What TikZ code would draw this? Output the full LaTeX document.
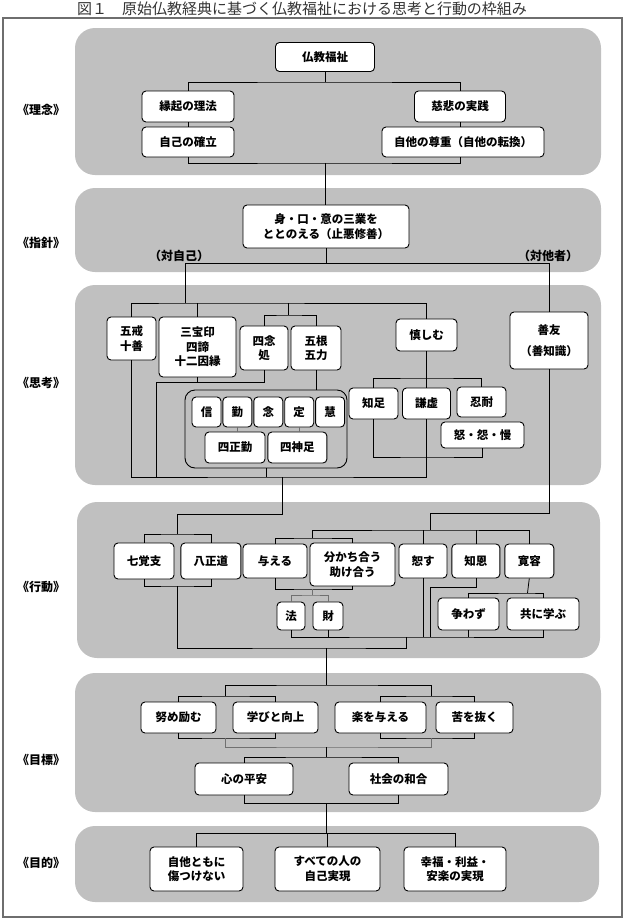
\documentclass[tikz,border=0pt]{standalone}
\usepackage{fontspec}
\setmainfont{Noto Sans CJK JP}
\usetikzlibrary{positioning}
\definecolor{bandgray}{HTML}{C0C0C0}
\definecolor{framegray}{HTML}{6E6E6E}
\definecolor{linkgray}{HTML}{707070}
\newcommand\boxfont{\fontsize{11.5}{14.5}\selectfont\bfseries}
\newcommand\tagfont{\fontsize{12}{14}\selectfont\bfseries}
\tikzset{
  band/.style={fill=bandgray, rounded corners=20pt},
  item/.style={rectangle, rounded corners=4pt, draw=black, fill=white, line width=0.9pt, align=center, inner sep=0pt, font=\boxfont},
  dims/.style 2 args={minimum width=#1pt, minimum height=#2pt},
  group/.style={rectangle, rounded corners=10pt, draw=black, line width=0.9pt, inner sep=0pt},
  tag/.style={font=\tagfont, inner sep=0pt},
  link/.style={line width=0.8pt},
  faint/.style={line width=0.8pt, draw=linkgray},
}
\begin{document}
\begin{tikzpicture}[x=1pt,y=-1pt]
  \useasboundingbox (0,0) rectangle (625,919);
  \node[anchor=base, font=\fontsize{15}{15}\selectfont, text=black!80] (title) at (302,14) {図１　原始仏教経典に基づく仏教福祉における思考と行動の枠組み};
  \draw[framegray, line width=1.2pt] (3,18) rectangle (622,917);
  \fill[band] (75,28) rectangle (601,175);
  \fill[band] (75,188) rectangle (601,272);
  \fill[band] (75,285) rectangle (601,485);
  \fill[band] (77,502) rectangle (600,658);
  \fill[band] (75,673) rectangle (601,812);
  \fill[band] (75,826) rectangle (599,902);

  \node[tag] (riten) at (41,110) {《理念》};
  \node[tag] (shishin) at (41,243) {《指針》};
  \node[tag] (shiko) at (41,383) {《思考》};
  \node[tag] (kodo) at (41,587) {《行動》};
  \node[tag] (mokuhyo) at (41,760) {《目標》};
  \node[tag] (mokuteki) at (41,863) {《目的》};

  \node[item,dims={99}{29}] (fukushi) at (325,57) {仏教福祉};
  \node[item,dims={92}{31}] (engi) at (188,106.5) {縁起の理法};
  \node[item,dims={91}{31}] (jihi) at (460,106.5) {慈悲の実践};
  \node[item,dims={92}{30}] (jiko) at (188,142) {自己の確立};
  \node[item,dims={162}{30}] (jita) at (463,142) {自他の尊重（自他の転換）};

  \node[item,dims={166}{43}] (sango) at (326,226.5) {身・口・意の三業を\\ととのえる（止悪修善）};
  \node[tag] (taijiko) at (179,255.5) {（対自己）};
  \node[tag] (taitasha) at (548,255.5) {（対他者）};

  \node[item,dims={49}{43}] (gokai) at (131.5,338.5) {五戒\\十善};
  \node[item,dims={77}{60}] (sanbo) at (197.5,347) {三宝印\\四諦\\十二因縁};
  \node[item,dims={48}{44}] (shinen) at (264,348) {四念\\処};
  \node[item,dims={50}{44}] (gokon) at (316,348) {五根\\五力};
  \node[item,dims={61}{32}] (tsutsu) at (426.5,335) {慎しむ};
  \node[item,dims={78}{57}] (zenyu) at (549,340.5) {善友\\[7pt]（善知識）};
  \node[group,dims={162}{78}] (shugyo) at (266,429) {};
  \node[item,dims={29}{30}] (shin) at (206.5,412) {信};
  \node[item,dims={29}{30},right=1pt of shin] (gon) {勤};
  \node[item,dims={29}{30},right=1pt of gon] (nen) {念};
  \node[item,dims={29}{30},right=1pt of nen] (jo) {定};
  \node[item,dims={29}{30},right=1pt of jo] (e) {慧};
  \node[item,dims={60}{31}] (shishogon) at (235,447.5) {四正勤};
  \node[item,dims={59}{31},right=2pt of shishogon] (shijinsoku) {四神足};
  \node[item,dims={49}{31}] (chisoku) at (373.5,403.5) {知足};
  \node[item,dims={48}{31}] (kenkyo) at (426.5,403.5) {謙虚};
  \node[item,dims={49}{30}] (nintai) at (481.5,402) {忍耐};
  \node[item,dims={83}{26}] (doenman) at (482.5,435) {怒・怨・慢};

  \node[item,dims={60}{36}] (shichikaku) at (144,561) {七覚支};
  \node[item,dims={60}{36},right=6pt of shichikaku] (hassho) {八正道};
  \node[item,dims={64}{34}] (ataeru) at (275,561) {与える};
  \node[item,dims={85}{43}] (wakachi) at (352.5,564.5) {分かち合う\\助け合う};
  \node[item,dims={48}{34}] (yurusu) at (423,561) {恕す};
  \node[item,dims={48}{34},right=4pt of yurusu] (chion) {知恩};
  \node[item,dims={49}{34},right=4pt of chion] (kanyo) {寛容};
  \node[item,dims={28}{28}] (ho) at (291,616) {法};
  \node[item,dims={30}{28}] (zai) at (328,616) {財};
  \node[item,dims={61}{32}] (arasowazu) at (468.5,614) {争わず};
  \node[item,dims={72}{32}] (tomoni) at (543,614) {共に学ぶ};

  \node[item,dims={75}{31}] (tsutome) at (178.5,717.5) {努め励む};
  \node[item,dims={85}{31}] (manabi) at (275.5,717.5) {学びと向上};
  \node[item,dims={91}{31}] (raku) at (380.5,717.5) {楽を与える};
  \node[item,dims={77}{31}] (ku) at (474.5,717.5) {苦を抜く};
  \node[item,dims={98}{32}] (heian) at (244,779) {心の平安};
  \node[item,dims={99}{32}] (wago) at (398.5,779) {社会の和合};

  \node[item,dims={93}{44}] (kizu) at (196.5,869) {自他ともに\\傷つけない};
  \node[item,dims={105}{44}] (jitsugen) at (327.5,869) {すべての人の\\自己実現};
  \node[item,dims={102}{44}] (kofuku) at (455,869) {幸福・利益・\\安楽の実現};

  \coordinate (top1) at (325,82);
  \coordinate (bot1) at (325,163);
  \draw[link] (fukushi.south) -- (top1);
  \draw[link] (engi.north) |- (top1) -| (jihi.north);
  \draw[link] (engi.south) -- (jiko.north);
  \draw[link] (jihi.south) -- (jihi.south |- jita.north);
  \draw[link] (jiko.south) |- (bot1) -| (jita.south -| jihi.south);
  \draw[link] (bot1) -- (bot1 |- sango.north);

  \coordinate (selfend) at (185,263);
  \coordinate (thinkbar) at (185,303);
  \coordinate (nenbar) at (288,315);
  \draw[link] (sango.south) -- (sango.south |- selfend);
  \draw[link] (selfend) -| (zenyu.north);
  \draw[link] (selfend) -- (thinkbar);
  \draw[link] (gokai.north) |- (thinkbar) -| (tsutsu.north);
  \draw[link] (sanbo.north) -- (sanbo.north |- thinkbar);
  \draw[link] (nenbar |- thinkbar) -- (nenbar);
  \draw[link] (shinen.north) |- (nenbar) -| (gokon.north);

  \coordinate (sanjoin) at (156,382);
  \coordinate (thinkbot) at (282,477);
  \coordinate (kenbar) at (426.5,378);
  \coordinate (kenbot) at (426.5,457);
  \draw[link] (sanbo.south) -- (sanbo.south |- sanjoin);
  \draw[link] (shinen.south) |- (sanjoin) -- (sanjoin |- thinkbot);
  \draw[link] (gokai.south) |- (thinkbot) -| (kenkyo.south);
  \draw[link] (gokon.south) -- (gokon.south |- shugyo.north);
  \draw[link] (shugyo.south) -- (shugyo.south |- thinkbot);
  \draw[faint] (gon.south) -- (gon.south |- shishogon.north);
  \draw[faint] (jo.south) -- (jo.south |- shijinsoku.north);
  \draw[link] (tsutsu.south) -- (kenkyo.north);
  \draw[link] (chisoku.north) |- (kenbar) -| (nintai.north);
  \draw[link] (chisoku.south) |- (kenbot) -| (doenman.south);

  \coordinate (actL) at (177,534);
  \coordinate (actLb) at (177,586);
  \coordinate (actR) at (430,530);
  \coordinate (sharebar) at (312,538);
  \coordinate (giveb) at (312,589);
  \coordinate (dharma) at (312,595);
  \coordinate (actRb) at (406,637);
  \coordinate (chionturn) at (430,587);
  \coordinate (kanbar) at (527.5,593);
  \coordinate (actbot) at (326,648);
  \draw[link] (thinkbot) -- ++(0,37) -| (actL);
  \draw[link] (shichikaku.north) |- (actL) -| (hassho.north);
  \draw[link] (shichikaku.south) |- (actLb) -| (hassho.south);
  \draw[link] (zenyu.south) -- ++(0,144) -| (actR);
  \draw[link] (sharebar) |- (actR) -| (kanyo.north);
  \draw[link] (yurusu.north) -- (yurusu.north |- actR);
  \draw[link] (chion.north) -- (chion.north |- actR);
  \draw[link] (ataeru.north) |- (sharebar) -| (wakachi.north);
  \draw[link] (ataeru.south) |- (giveb) -| (wakachi.south);
  \draw[faint] (giveb) -- (dharma);
  \draw[faint] (ho.north) |- (dharma) -| (zai.north);
  \draw[link] (ho.south) |- (actRb) -| (tomoni.south);
  \draw[link] (zai.south) -- (zai.south |- actRb);
  \draw[link] (arasowazu.south) -- (arasowazu.south |- actRb);
  \draw[link] (yurusu.south) -- (yurusu.south |- actRb);
  \draw[link] (chion.south) |- (chionturn) -- (chionturn |- actRb);
  \draw[link] (kanyo.south) -- (kanbar);
  \draw[link] (arasowazu.north) |- (kanbar) -| (tomoni.north);
  \draw[link] (actLb) |- (actbot) -| (actRb);

  \coordinate (goalbar) at (326,685);
  \coordinate (goalL) at (225,696);
  \coordinate (goalR) at (431,696);
  \coordinate (goalLb) at (225,738);
  \coordinate (goalRb) at (431,738);
  \coordinate (goalmid) at (326,747);
  \coordinate (peacebar) at (326,757);
  \coordinate (peacebot) at (326,803);
  \draw[link] (actbot) -- (goalbar);
  \draw[link] (goalL) |- (goalbar) -| (goalR);
  \draw[link] (tsutome.north) |- (goalL) -| (manabi.north);
  \draw[link] (raku.north) |- (goalR) -| (ku.north);
  \draw[link] (tsutome.south) |- (goalLb) -| (manabi.south);
  \draw[link] (raku.south) |- (goalRb) -| (ku.south);
  \draw[faint] (goalLb) |- (goalmid) -| (goalRb);
  \draw[link] (goalmid) -- (peacebar);
  \draw[link] (heian.north) |- (peacebar) -| (wago.north);
  \draw[link] (heian.south) |- (peacebot) -| (wago.south);

  \coordinate (purposebar) at (326,833);
  \draw[link] (peacebot) -- (purposebar);
  \draw[link] (kizu.north) |- (purposebar) -| (kofuku.north);
  \draw[link] (jitsugen.north) -- (jitsugen.north |- purposebar);
\end{tikzpicture}
\end{document}
